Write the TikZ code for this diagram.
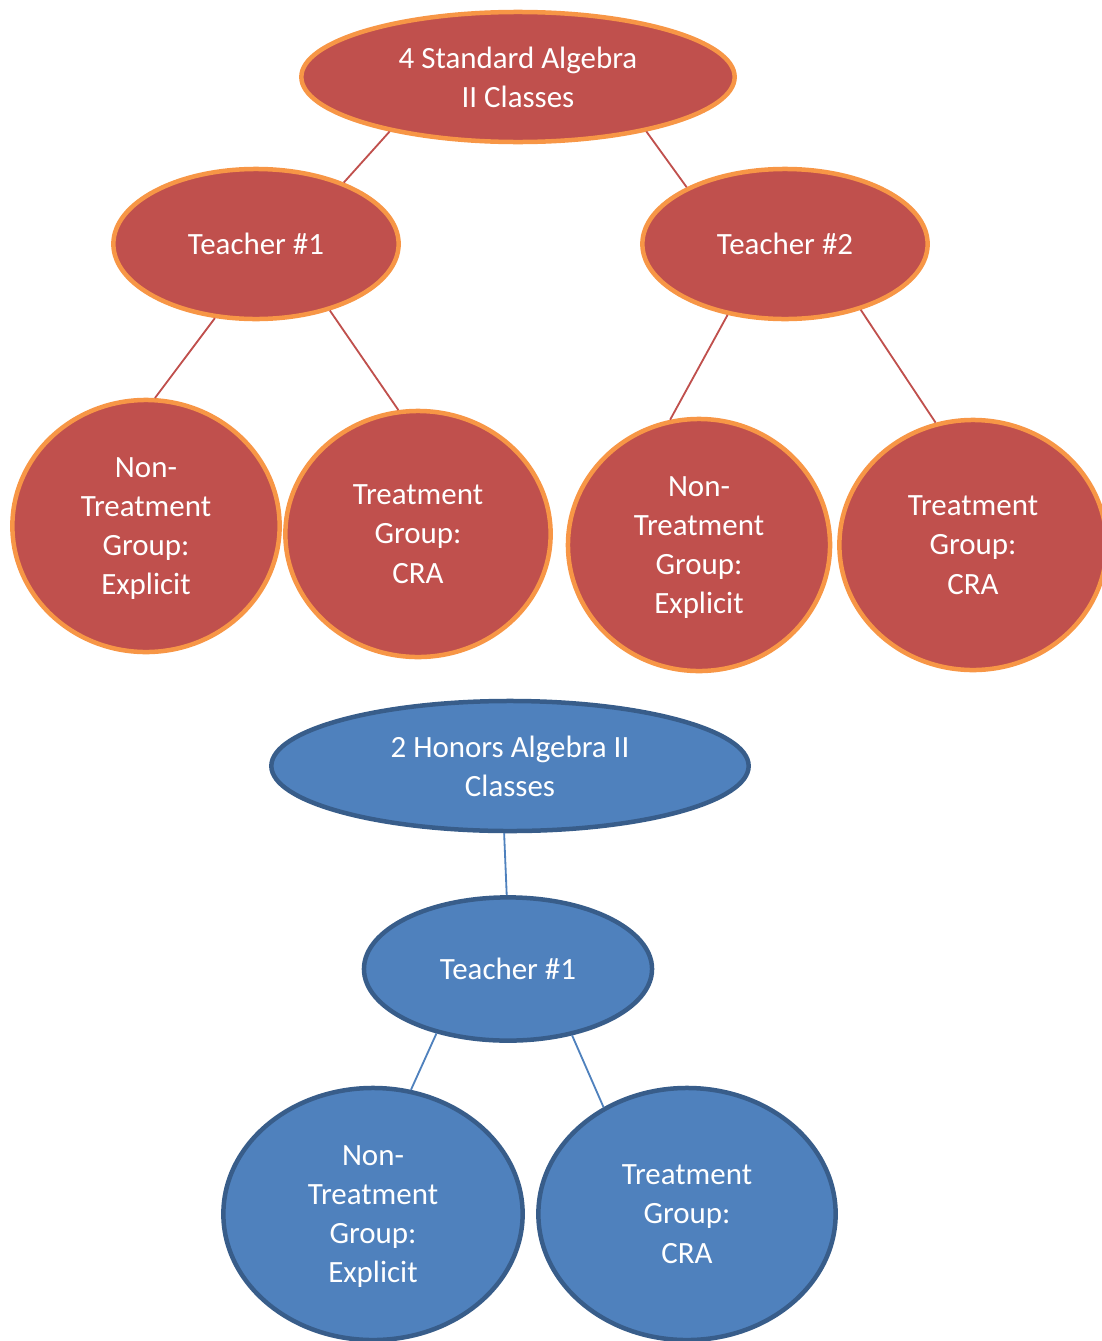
\documentclass[tikz,border=0pt]{standalone}
\usepackage{fontspec}
\setmainfont{Carlito}
\usetikzlibrary{shapes.geometric}
\definecolor{redfill}{HTML}{C0504D}
\definecolor{orangeline}{HTML}{F79646}
\definecolor{bluefill}{HTML}{4F81BD}
\definecolor{blueline}{HTML}{385D8A}
\begin{document}
\begin{tikzpicture}[x=0.025cm, y=-0.025cm,
    oval/.style={ellipse, inner sep=0pt, align=center, text=white,
        font=\fontsize{22}{27.8}\selectfont, line width=3.2pt,
        text depth=0pt},
    redoval/.style={oval, fill=redfill, draw=orangeline},
    blueoval/.style={oval, fill=bluefill, draw=blueline},
    redlink/.style={redfill, line width=1.3pt},
    bluelink/.style={bluefill, line width=1.3pt}]
\useasboundingbox (0,0) rectangle (1102,1341);
% standard classes
\node[redoval, minimum width=10.83cm, minimum height=3.25cm]
    (std) at (518,77) {4 Standard Algebra\\II Classes};
\node[redoval, minimum width=7.13cm, minimum height=3.75cm]
    (teachA) at (256,244) {Teacher \#1};
\node[redoval, minimum width=7.13cm, minimum height=3.75cm]
    (teachB) at (785,244) {Teacher \#2};
\node[redoval, minimum width=6.68cm, minimum height=6.3cm]
    (ntA) at (146,526) {Non-\\Treatment\\Group:\\Explicit};
\node[redoval, minimum width=6.63cm, minimum height=6.15cm]
    (trA) at (418,534) {Treatment\\Group:\\CRA};
\node[redoval, minimum width=6.55cm, minimum height=6.3cm]
    (ntB) at (699,545) {Non-\\Treatment\\Group:\\Explicit};
\node[redoval, minimum width=6.68cm, minimum height=6.25cm]
    (trB) at (973,545) {Treatment\\Group:\\CRA};
\draw[redlink] (std.203) -- (teachA.35);
\draw[redlink] (std.337) -- (teachB.150);
\draw[redlink] (teachA.241) -- (ntA.86);
\draw[redlink] (teachA.318) -- (trA.99);
\draw[redlink] (teachB.231) -- (ntB.103);
\draw[redlink] (teachB.319) -- (trB.107);
% honors classes
\node[blueoval, minimum width=11.93cm, minimum height=3.25cm]
    (hon) at (510,766) {2 Honors Algebra II\\Classes};
\node[blueoval, minimum width=7.2cm, minimum height=3.58cm]
    (teachC) at (508,969) {Teacher \#1};
\node[blueoval, minimum width=7.48cm, minimum height=6.3cm]
    (ntC) at (373,1214) {Non-\\Treatment\\Group:\\Explicit};
\node[blueoval, minimum width=7.43cm, minimum height=6.3cm]
    (trC) at (687,1214) {Treatment\\Group:\\CRA};
\draw[bluelink] (hon.265) -- (teachC.91);
\draw[bluelink] (teachC.222) -- (ntC.73);
\draw[bluelink] (teachC.314) -- (trC.128);
\end{tikzpicture}
\end{document}
